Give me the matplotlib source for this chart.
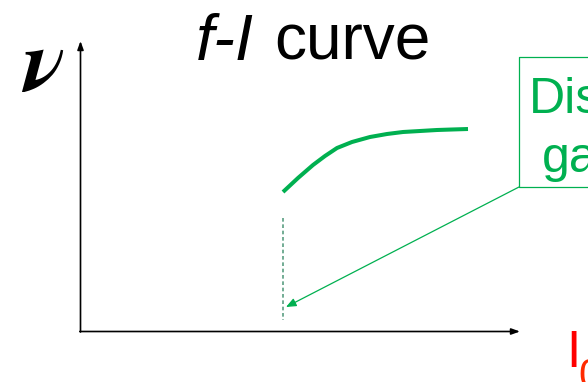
import matplotlib
matplotlib.use("Agg")
import matplotlib.pyplot as plt

# Data (pixel-space schematic)
curve_x = [283, 298, 313, 325, 337, 352, 370, 387, 403, 420, 437, 452, 468]
curve_y = [192, 178, 165, 156, 148, 142, 137, 134, 132, 131, 130, 129.5, 129]
threshold_x = 283
title_italic = "f-I"
title_rest = "curve"
ylabel_text = r"$\boldsymbol{\nu}$"
xlabel_text = "I"
xlabel_sub = "0"
box_lines = ["Dis", "ga"]

GREEN = "#00B050"

fig = plt.figure(figsize=(5.88, 3.82), dpi=100)
ax = fig.add_axes([0, 0, 1, 1])
ax.set_xlim(0, 588)
ax.set_ylim(382, 0)
ax.axis("off")

# Axes with arrows
ax.annotate("", xy=(80.5, 41), xytext=(80.5, 332),
            arrowprops=dict(arrowstyle="-|>,head_length=0.5,head_width=0.18",
                            color="black", lw=1.2, shrinkA=0, shrinkB=0))
ax.annotate("", xy=(520, 331.5), xytext=(79.8, 331.5),
            arrowprops=dict(arrowstyle="-|>,head_length=0.5,head_width=0.18",
                            color="black", lw=1.2, shrinkA=0, shrinkB=0))

# f-I curve
ax.plot(curve_x, curve_y, color=GREEN, lw=2.9, solid_capstyle="butt")

# threshold dashed line
ax.plot([threshold_x, threshold_x], [218, 320], color="#5A9E82", lw=1.2,
        linestyle=(0, (2.2, 1.6)))

# Box
ax.plot([600, 519, 519, 600], [57, 57, 187, 187], color=GREEN, lw=0.9,
        clip_on=True)
ax.text(529, 113, box_lines[0], color=GREEN, fontsize=36,
        family="Liberation Sans", ha="left", va="baseline")
ax.text(542, 172, box_lines[1], color=GREEN, fontsize=36,
        family="Liberation Sans", ha="left", va="baseline")

# Pointer arrow
ax.annotate("", xy=(286, 307), xytext=(519, 187),
            arrowprops=dict(arrowstyle="-|>,head_length=0.6,head_width=0.25",
                            color=GREEN, lw=0.9, shrinkA=0, shrinkB=0))

# Title
ax.text(196, 60, title_italic, fontsize=47, family="Liberation Sans",
        style="italic", ha="left", va="baseline")
ax.text(274, 60, title_rest, fontsize=46, family="Liberation Sans",
        ha="left", va="baseline")

# y label
ax.text(43, 91, ylabel_text, fontsize=64, math_fontfamily="stix",
        ha="center", va="baseline")

# x label
ax.text(566, 367, xlabel_text, fontsize=37, family="Liberation Sans",
        color="#FF0000", ha="left", va="baseline")
ax.text(578, 388, xlabel_sub, fontsize=30, family="Liberation Sans",
        color="#FF2A00", ha="left", va="baseline")

fig.savefig("out.png", dpi=100)
